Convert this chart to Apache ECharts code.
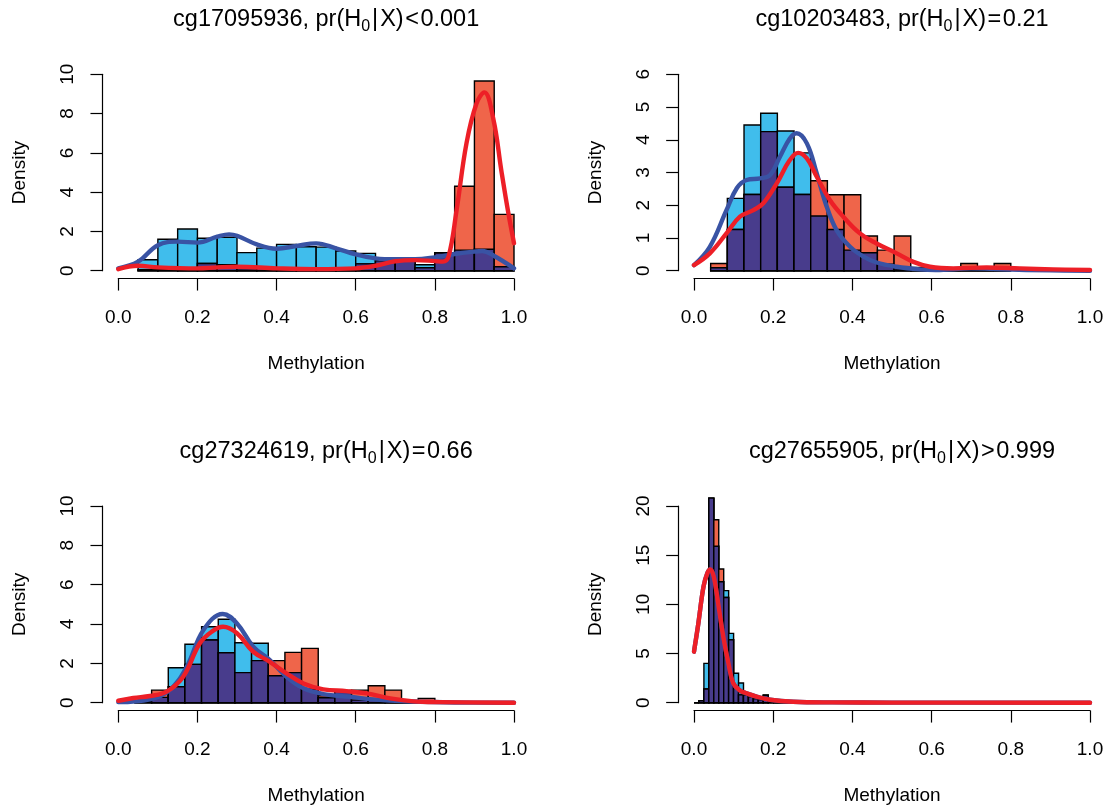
<!DOCTYPE html>
<html>
<head>
<meta charset="utf-8">
<script src="https://cdn.jsdelivr.net/npm/echarts@6/dist/echarts.min.js"></script>
<style>html,body{margin:0;padding:0;background:#fff}#c{width:1107px;height:809px}</style>
</head>
<body>
<div id="c"></div>
<script>
// ---------- data ----------
const cpgIds = ['cg17095936', 'cg10203483', 'cg27324619', 'cg27655905'];
const probOps = ['<', '=', '=', '>'];
const probValues = ['0.001', '0.21', '0.66', '0.999'];
const xTickValues = [0, 0.2, 0.4, 0.6, 0.8, 1.0];
const yMaxes = [10, 6, 10, 20];
const yIntervals = [2, 1, 2, 5];

// histogram bins (start of first bin, bin width) and densities per bin
const p1BinStart = 0.05, p1BinWidth = 0.05;
const p1Blue = [0.56, 1.6, 2.12, 1.65, 1.7, 0.92, 1.15, 1.34, 1.22, 1.2, 1.0, 0.88, 0.54, 0.58, 0.3, 0.92, 1.05, 1.09, 0.2];
const p1Red  = [0.05, 0.05, 0.15, 0.37, 0.3, 0.1, 0.15, 0.15, 0.1, 0.1, 0.1, 0.35, 0.5, 0.55, 0.15, 0.9, 4.3, 9.66, 2.87];

const p2BinStart = 0.8 / 19, p2BinWidth = 0.8 / 19;
const p2Blue = [0.09, 2.21, 4.45, 4.81, 4.27, 3.6, 1.67, 1.26, 0.63, 0.55, 0.2, 0.05, 0, 0, 0, 0, 0, 0];
const p2Red  = [0.22, 1.26, 2.33, 4.25, 2.55, 2.33, 2.75, 2.32, 2.32, 1.06, 0.63, 1.06, 0.1, 0, 0, 0.22, 0, 0.22];

const p3BinStart = 0.8 / 19, p3BinWidth = 0.8 / 19;
const p3Blue = [0.1, 0.27, 1.78, 2.97, 3.86, 4.24, 3.05, 3.02, 1.37, 1.53, 0.68, 0.25, 0.62, 0.14, 0.14, 0, 0, 0];
const p3Red  = [0.05, 0.64, 0.81, 1.95, 3.19, 2.54, 1.53, 2.14, 2.14, 2.56, 2.76, 0.35, 0.6, 0.64, 0.86, 0.64, 0, 0.22];

const p4BinStart = 0, p4BinWidth = 0.0125;
const p4Blue = [0, 0.2, 4.0, 21.5, 15.9, 12.3, 11.4, 7.05, 3.0, 2.0, 1.0, 0.6, 0.6, 0.3, 0.75, 0.1, 0, 0, 0, 0, 0, 0, 0, 0];
const p4Red  = [0, 0.2, 1.4, 23, 18.6, 13.6, 10.7, 6.4, 1.6, 0.8, 0.8, 0.7, 0.4, 0.4, 0.75, 0.2, 0, 0, 0, 0, 0, 0, 0, 0];

// density curves [methylation, density]
const p1BlueLine = [[0,0.12],[0.05,0.46],[0.1,1.3],[0.15,1.48],[0.2,1.43],[0.25,1.73],[0.28,1.85],[0.3,1.78],[0.35,1.34],[0.4,1.12],[0.45,1.26],[0.5,1.39],[0.55,1.14],[0.6,0.83],[0.65,0.63],[0.7,0.58],[0.75,0.58],[0.8,0.68],[0.85,0.85],[0.9,0.97],[0.92,1.0],[0.95,0.75],[1.0,0.12]];
const p1RedLine  = [[0,0.08],[0.05,0.25],[0.1,0.17],[0.2,0.12],[0.25,0.17],[0.3,0.2],[0.4,0.12],[0.5,0.08],[0.6,0.12],[0.65,0.25],[0.7,0.48],[0.75,0.54],[0.8,0.49],[0.82,0.46],[0.835,0.75],[0.855,3.1],[0.88,6.5],[0.905,8.5],[0.925,9.08],[0.948,7.7],[0.968,5.1],[0.986,2.9],[1.0,1.4]];
const p2BlueLine = [[0,0.17],[0.04,0.73],[0.082,1.85],[0.108,2.52],[0.133,2.77],[0.167,2.82],[0.192,2.92],[0.217,3.48],[0.242,4.04],[0.259,4.2],[0.285,3.89],[0.31,2.97],[0.335,1.96],[0.36,1.24],[0.394,0.73],[0.428,0.43],[0.461,0.25],[0.512,0.12],[0.57,0.04],[0.61,0.02],[0.7,0.07],[0.78,0.04],[0.9,0.01],[1.0,0.0]];
const p2RedLine  = [[0,0.17],[0.04,0.53],[0.082,1.14],[0.116,1.65],[0.15,1.85],[0.175,2.06],[0.209,2.67],[0.242,3.38],[0.263,3.6],[0.285,3.43],[0.31,2.87],[0.343,2.16],[0.377,1.65],[0.419,1.14],[0.461,0.83],[0.512,0.53],[0.554,0.27],[0.596,0.12],[0.655,0.07],[0.739,0.1],[0.823,0.07],[0.907,0.04],[1.0,0.02]];
const p3BlueLine = [[0,0.03],[0.08,0.17],[0.13,0.64],[0.173,1.83],[0.215,3.69],[0.264,4.51],[0.3,4.03],[0.341,2.85],[0.383,2.17],[0.425,1.32],[0.468,0.73],[0.518,0.44],[0.585,0.3],[0.644,0.17],[0.729,0.07],[0.85,0.01],[1.0,0]];
const p3RedLine  = [[0,0.1],[0.038,0.24],[0.08,0.34],[0.122,0.56],[0.164,1.32],[0.206,3.02],[0.236,3.61],[0.265,3.86],[0.3,3.53],[0.341,2.59],[0.383,2.08],[0.425,1.49],[0.468,0.98],[0.518,0.68],[0.577,0.59],[0.628,0.47],[0.687,0.22],[0.746,0.07],[0.813,0.03],[1.0,0]];
const p4BlueLine = [[0,5.19],[0.011,8.07],[0.024,11.8],[0.034,13.2],[0.041,13.56],[0.05,12.8],[0.061,10.1],[0.074,6.7],[0.087,4.0],[0.099,2.0],[0.116,1.25],[0.133,0.95],[0.16,0.6],[0.192,0.3],[0.25,0.1],[0.35,0.03],[0.5,0.01],[1.0,0]];
const p4RedLine  = [[0,5.19],[0.011,8.07],[0.024,11.8],[0.034,13.2],[0.041,13.56],[0.05,12.8],[0.061,10.1],[0.074,6.7],[0.087,4.0],[0.099,2.0],[0.116,1.25],[0.133,0.95],[0.16,0.6],[0.192,0.3],[0.25,0.1],[0.35,0.03],[0.5,0.01],[1.0,0]];

// ---------- styling / layout ----------
const FONT = '"Liberation Sans", Arial, Helvetica, sans-serif';
const BLUE_FILL = '#40BDEC', RED_FILL = '#EF654A', DARK_FILL = '#483C8C';
const BLUE_LINE = '#3953A4', RED_LINE = '#ED1F27';
const grids = [
  {left: 118.3, top: 74.3, width: 395.7, height: 196.4},
  {left: 694, top: 74.3, width: 396, height: 196.4},
  {left: 118.3, top: 506, width: 395.7, height: 196.7},
  {left: 694, top: 506, width: 396, height: 196.7}
];
const panels = [
  {start: p1BinStart, width: p1BinWidth, blue: p1Blue, red: p1Red, bl: p1BlueLine, rl: p1RedLine},
  {start: p2BinStart, width: p2BinWidth, blue: p2Blue, red: p2Red, bl: p2BlueLine, rl: p2RedLine},
  {start: p3BinStart, width: p3BinWidth, blue: p3Blue, red: p3Red, bl: p3BlueLine, rl: p3RedLine},
  {start: p4BinStart, width: p4BinWidth, blue: p4Blue, red: p4Red, bl: p4BlueLine, rl: p4RedLine}
];

function histSeries(idx, p) {
  const data = p.blue.map((b, i) => [p.start + i * p.width, p.start + (i + 1) * p.width, b, p.red[i]]);
  const cap = yMaxes[idx] * 1.04;
  return {
    type: 'custom', xAxisIndex: idx, yAxisIndex: idx, z: 2, clip: false, silent: true,
    data: data,
    encode: {x: [0, 1], y: [2, 3]},
    renderItem: function (params, api) {
      const x0 = api.value(0), x1 = api.value(1), b = api.value(2), r = api.value(3);
      function rect(h, color) {
        const p0 = api.coord([x0, 0]);
        const p1 = api.coord([x1, Math.min(h, cap)]);
        return {type: 'rect', shape: {x: p0[0], y: p1[1], width: p1[0] - p0[0], height: p0[1] - p1[1]},
                style: {fill: color, stroke: '#000', lineWidth: 1.4}};
      }
      return {type: 'group', children: [rect(b, BLUE_FILL), rect(r, RED_FILL), rect(Math.min(b, r), DARK_FILL)]};
    }
  };
}
function lineSeries(idx, pts, color, z) {
  return {type: 'line', xAxisIndex: idx, yAxisIndex: idx, data: pts, smooth: 0.4, symbol: 'none', z: z,
          clip: false, silent: true, lineStyle: {color: color, width: 4.4, cap: 'round', join: 'round'}};
}

const series = [];
panels.forEach((p, i) => {
  series.push(histSeries(i, p));
  series.push(lineSeries(i, p.bl, BLUE_LINE, 3));
  series.push(lineSeries(i, p.rl, RED_LINE, 4));
});

const TS = 23.5;
const tk = (pad) => ({fontFamily: FONT, fontSize: TS, lineHeight: 30, color: '#000', padding: pad});
const titleRich = {
  a: tk([0, 0, 0, 0]),
  s: {fontFamily: FONT, fontSize: 16, lineHeight: 20, verticalAlign: 'bottom', color: '#000'},
  d: tk([0, 2, 0, 2]),
  f: tk([0, 1.5, 0, 1.5])
};

const option = {
  animation: false,
  backgroundColor: '#fff',
  title: cpgIds.map((id, i) => ({
    text: '{a|' + id + ', pr(H}{s|0}{d||}{a|X)}{f|' + probOps[i] + '}{a|' + probValues[i] + '}',
    left: grids[i].left + grids[i].width / 2 + 5,
    top: (i < 2 ? 0 : 431.7),
    textAlign: 'center',
    textStyle: {fontFamily: FONT, fontSize: TS, fontWeight: 'normal', color: '#000', lineHeight: 30, rich: titleRich}
  })),
  grid: grids,
  xAxis: grids.map((g, i) => ({
    type: 'value', gridIndex: i, min: 0, max: 1, interval: 0.2,
    offset: 0.04 * g.height,
    name: 'Methylation', nameLocation: 'middle', nameGap: 76,
    nameTextStyle: {fontFamily: FONT, fontSize: 19, color: '#000'},
    axisLine: {show: true, onZero: false, lineStyle: {color: '#000', width: 1.2}},
    axisTick: {show: true, length: 12, lineStyle: {color: '#000', width: 1.2}},
    axisLabel: {fontFamily: FONT, fontSize: 19, color: '#000', margin: 30, formatter: v => v.toFixed(1)},
    splitLine: {show: false}
  })),
  yAxis: grids.map((g, i) => ({
    type: 'value', gridIndex: i, min: 0, max: yMaxes[i], interval: yIntervals[i],
    offset: 0.04 * g.width,
    name: 'Density', nameLocation: 'middle', nameGap: 73, nameRotate: 90,
    nameTextStyle: {fontFamily: FONT, fontSize: 19, color: '#000'},
    axisLine: {show: true, onZero: false, lineStyle: {color: '#000', width: 1.2}},
    axisTick: {show: true, length: 12, lineStyle: {color: '#000', width: 1.2}},
    axisLabel: {fontFamily: FONT, fontSize: 19, color: '#000', margin: 25, rotate: 90},
    splitLine: {show: false}
  })),
  series: series
};

const chart = echarts.init(document.getElementById('c'), null, {renderer: 'canvas'});
chart.setOption(option);
</script>
</body>
</html>
